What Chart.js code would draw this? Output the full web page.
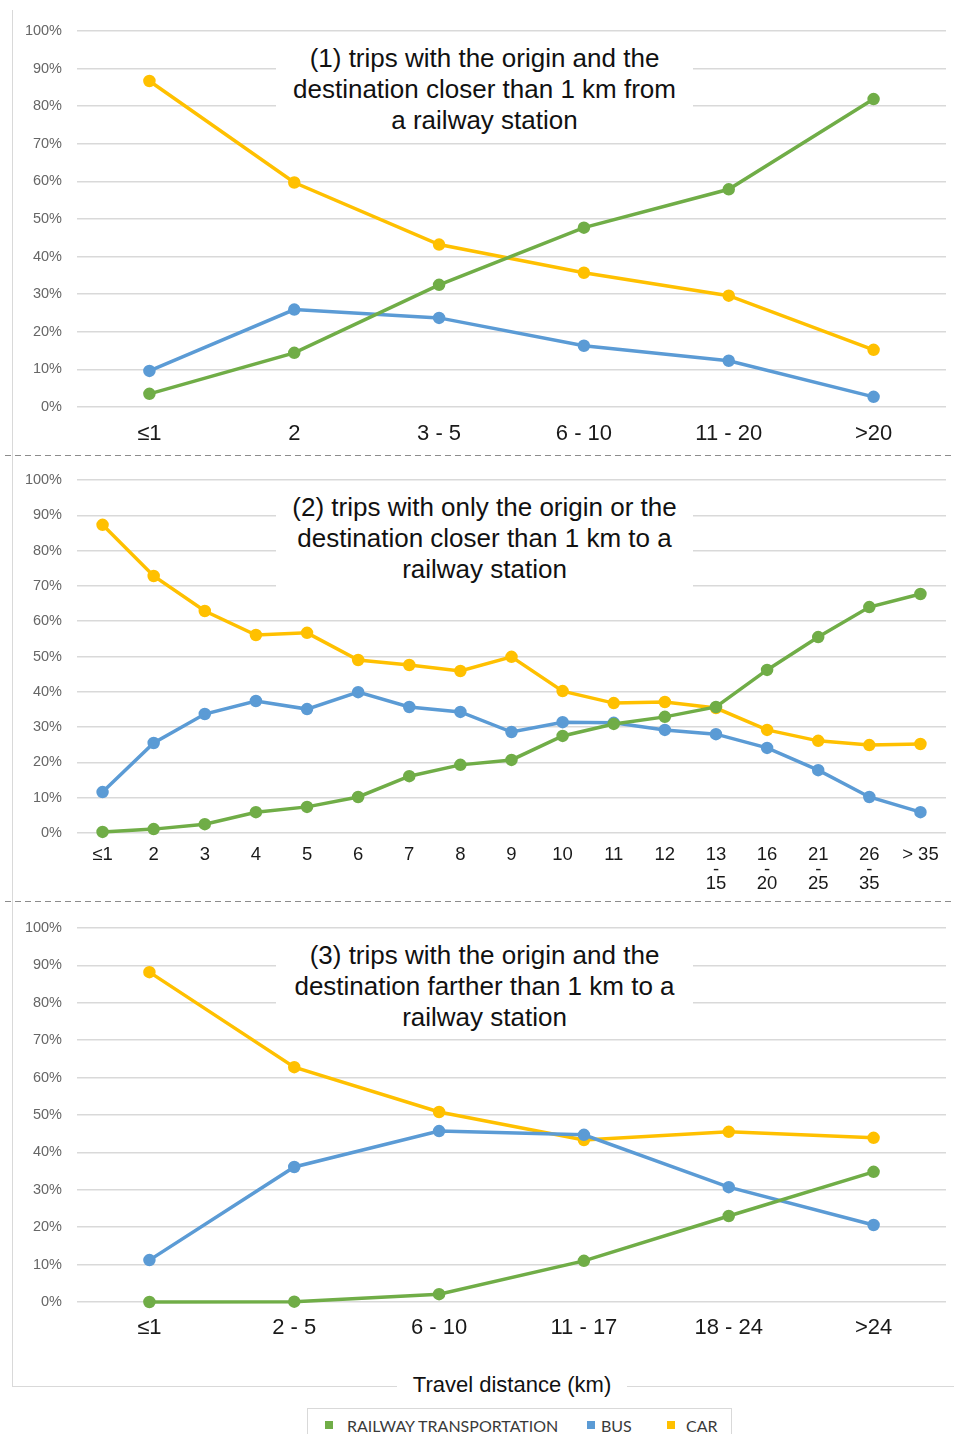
<!DOCTYPE html>
<html>
<head>
<meta charset="utf-8">
<script src="https://cdn.jsdelivr.net/npm/chart.js@4.4.1/dist/chart.umd.min.js"></script>
<style>
body{margin:0;background:#fff;font-family:"Liberation Sans",Arial,sans-serif}
#page{position:relative;width:954px;height:1434px;overflow:hidden;background:#fff}
canvas{position:absolute;left:0}
.box{position:absolute;left:276px;width:417px;background:#fff;text-align:center;font-size:26px;line-height:31px;color:#111;white-space:nowrap}
.sep{position:absolute;left:5px;width:949px;height:1px;background:repeating-linear-gradient(to right,#8c8c8c 0 6px,transparent 6px 10px)}
.sq{position:absolute;width:8px;height:8px}
.lt{position:absolute;font-family:Lato,"Open Sans",sans-serif;font-size:16px;color:#3a3a3a;line-height:18px}
</style>
</head>
<body>
<div id="page">
<canvas id="c1" width="954" height="455" style="top:0"></canvas>
<canvas id="c2" width="954" height="446" style="top:455px"></canvas>
<canvas id="c3" width="954" height="485" style="top:901px"></canvas>

<div style="position:absolute;left:12px;top:10px;width:1px;height:1376px;background:#d9d9d9"></div>
<div style="position:absolute;left:12px;top:1386px;width:942px;height:1px;background:#d9d9d9"></div>
<div class="sep" style="top:455px"></div>
<div class="sep" style="top:901px"></div>

<div class="box" style="top:42px;height:96px;padding-top:1px">(1) trips with the origin and the<br>destination closer than 1 km from<br>a railway station</div>
<div class="box" style="top:491px;height:98px;padding-top:1px">(2) trips with only the origin or the<br>destination closer than 1 km to a<br>railway station</div>
<div class="box" style="top:939px;height:96px;padding-top:1px">(3) trips with the origin and the<br>destination farther than 1 km to a<br>railway station</div>

<div style="position:absolute;left:397px;top:1371px;width:230px;text-align:center;background:#fff;font-size:22px;line-height:28px;color:#111">Travel distance (km)</div>

<div style="position:absolute;left:307px;top:1408px;width:423px;height:40px;border:1px solid #d9d9d9;background:#fff"></div>
<div class="sq" style="left:325px;top:1421px;background:#70AD47"></div>
<div class="lt" style="left:347px;top:1417px">RAILWAY TRANSPORTATION</div>
<div class="sq" style="left:587px;top:1421px;background:#5B9BD5"></div>
<div class="lt" style="left:601px;top:1417px">BUS</div>
<div class="sq" style="left:667px;top:1421px;background:#FFC000"></div>
<div class="lt" style="left:686px;top:1417px">CAR</div>
</div>

<script>
// panel 1: origin and destination closer than 1 km
const labels1=["≤1","2","3 - 5","6 - 10","11 - 20",">20"]
const rail1=[3.5,14.4,32.5,47.7,57.9,81.9]
const bus1=[9.6,25.9,23.7,16.3,12.3,2.7]
const car1=[86.7,59.7,43.2,35.7,29.6,15.2]

// panel 2: only origin or destination closer than 1 km
const labels2=["≤1","2","3","4","5","6","7","8","9","10","11","12",["13","-","15"],["16","-","20"],["21","-","25"],["26","-","35"],"> 35"]
const rail2=[0.3,1.1,2.5,5.9,7.4,10.2,16.1,19.3,20.7,27.5,30.9,32.9,35.7,46.2,55.5,64.0,67.7]
const bus2=[11.6,25.5,33.7,37.4,35.1,39.9,35.7,34.3,28.6,31.4,31.2,29.2,28.0,24.1,17.8,10.2,5.9]
const car2=[87.3,72.8,62.9,56.1,56.7,49.0,47.6,45.9,49.9,40.2,36.8,37.1,35.4,29.2,26.1,24.9,25.2]

// panel 3: origin and destination farther than 1 km
const labels3=["≤1","2 - 5","6 - 10","11 - 17","18 - 24",">24"]
const rail3=[0,0.1,2.1,11.0,23.0,34.8]
const bus3=[11.2,36.1,45.7,44.7,30.7,20.6]
const car3=[88.2,62.8,50.8,43.3,45.5,43.9]

const yTicks=[0,10,20,30,40,50,60,70,80,90,100]

function ds(label,data,color){
    return {
        label:label,
        data:data,
        borderColor:color,
        backgroundColor:color,
        borderWidth:3.5,
        pointRadius:4.5,
        pointHoverRadius:4.5,
        tension:0,
        clip:false
    }
}

function makeChart(id,labels,rail,bus,car,o){

    new Chart(document.getElementById(id),{
        type:"line",
        data:{
            labels:labels,
            datasets:[
                ds("RAILWAY TRANSPORTATION",rail,"#70AD47"),
                ds("BUS",bus,"#5B9BD5"),
                ds("CAR",car,"#FFC000")
            ]
        },
        options:{
            responsive:false,
            animation:false,
            events:[],
            layout:{padding:{top:o.top,right:7,left:0,bottom:0}},
            plugins:{legend:{display:false},tooltip:{enabled:false}},
            scales:{
                x:{
                    offset:true,
                    grid:{display:false,drawTicks:false},
                    border:{display:false},
                    ticks:{
                        color:"#1a1a1a",
                        font:{family:"Liberation Sans",size:o.xSize,lineHeight:o.xLine},
                        padding:o.xPad,
                        maxRotation:0,
                        minRotation:0,
                        autoSkip:false
                    },
                    afterFit:(s)=>{s.height=o.xHeight}
                },
                y:{
                    min:0,
                    max:100,
                    afterBuildTicks:(s)=>{s.ticks=yTicks.map(v=>({value:v}))},
                    grid:{color:"#d9d9d9",lineWidth:1.5,drawTicks:false},
                    border:{display:false},
                    ticks:{
                        color:"#666",
                        font:{family:"Liberation Sans",size:14.5},
                        padding:15,
                        callback:(v)=>v+"%"
                    },
                    afterFit:(s)=>{s.width=77}
                }
            }
        }
    })

}

makeChart("c1",labels1,rail1,bus1,car1,{top:31,xHeight:48,xPad:14,xSize:22,xLine:1.2})
makeChart("c2",labels2,rail2,bus2,car2,{top:25,xHeight:68,xPad:15,xSize:18.5,xLine:"14.5px"})
makeChart("c3",labels3,rail3,bus3,car3,{top:27,xHeight:84,xPad:13,xSize:22,xLine:1.2})
</script>
</body>
</html>
